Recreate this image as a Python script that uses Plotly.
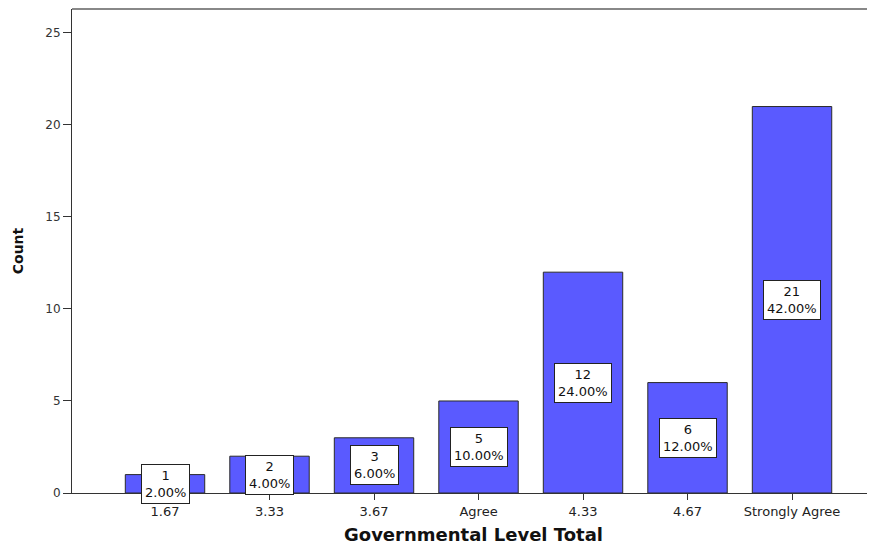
import plotly.graph_objects as go

categories = ["1.67", "3.33", "3.67", "Agree", "4.33", "4.67", "Strongly Agree"]
counts = [1, 2, 3, 5, 12, 6, 21]
percents = ["2.00%", "4.00%", "6.00%", "10.00%", "24.00%", "12.00%", "42.00%"]
y_ticks = [0, 5, 10, 15, 20, 25]

fig = go.Figure()
fig.add_trace(go.Bar(
    x=categories, y=counts, width=0.76,
    marker=dict(color="#5a5aff", line=dict(color="#2a2a2a", width=1)),
    hoverinfo="skip",
))

for i, (v, p) in enumerate(zip(counts, percents)):
    fig.add_annotation(
        x=i, y=v / 2, xref="x", yref="y",
        text=f"{v}<br>{p}", showarrow=False,
        font=dict(family="DejaVu Sans", size=13, color="#111111"),
        bgcolor="white", bordercolor="#222222", borderwidth=1, borderpad=3,
    )

fig.add_shape(type="line", xref="paper", yref="paper", x0=0, x1=1, y0=1, y1=1,
              line=dict(color="#888888", width=2))

fig.update_layout(
    width=867, height=537,
    margin=dict(l=64, r=0, t=1, b=52, autoexpand=False),
    paper_bgcolor="white", plot_bgcolor="white",
    showlegend=False,
    font=dict(family="DejaVu Sans", size=13, color="#222222"),
    xaxis=dict(
        type="category", range=[-0.89, 6.794], automargin=False,
        showline=True, linecolor="#333333", linewidth=1,
        ticks="outside", ticklen=6, tickcolor="#333333",
        tickfont=dict(family="DejaVu Sans", size=13, color="#222222"),
        showgrid=False, zeroline=False,
        title=dict(text="<b>Governmental Level Total</b>",
                   font=dict(family="DejaVu Sans", size=18, color="#111111"),
                   standoff=11),
    ),
    yaxis=dict(
        range=[0, 26.3], tickvals=y_ticks, automargin=False,
        showline=True, linecolor="#333333", linewidth=1,
        ticks="outside", ticklen=8, tickcolor="#333333",
        tickfont=dict(family="DejaVu Sans", size=12, color="#333333"),
        showgrid=False, zeroline=False,
        title=dict(text="<b>Count</b>",
                   font=dict(family="DejaVu Sans", size=14, color="#111111"),
                   standoff=18),
    ),
)

fig.write_html("out.html")
